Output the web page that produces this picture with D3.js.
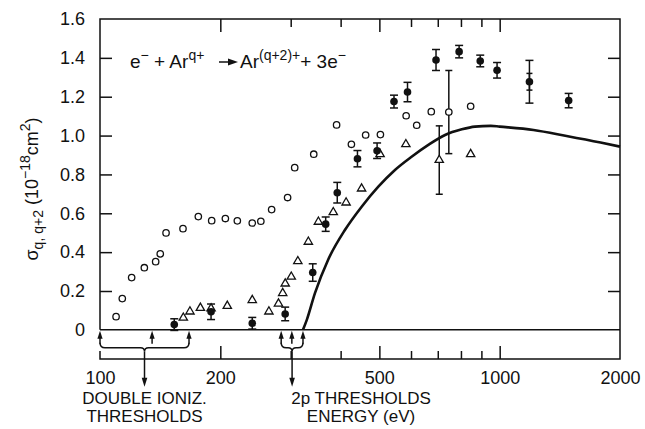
<!DOCTYPE html>
<html>
<head>
<meta charset="utf-8">
<script src="https://cdn.jsdelivr.net/npm/d3@7"></script>
<style>
  body { margin: 0; background: #fff; }
  svg text { font-family: "Liberation Sans", Arial, sans-serif; fill: #111; }
</style>
</head>
<body>
<div id="chart"></div>
<script>
// open circles
var openE = [109.7, 113.7, 120, 129.1, 137.8, 141.5, 146.3, 161.3, 176.2, 190.3, 205.9, 220.6, 240.4, 252.6, 268.8, 294.7, 307, 342.6, 390.8, 425.6, 462, 503, 583.4, 620, 674.3, 746, 846];
var openV = [0.068, 0.161, 0.269, 0.32, 0.351, 0.391, 0.499, 0.521, 0.583, 0.562, 0.573, 0.561, 0.55, 0.559, 0.619, 0.681, 0.835, 0.904, 1.055, 0.955, 1.003, 1.005, 1.102, 1.053, 1.123, 1.121, 1.151];
var openErr = [0, 0, 0, 0, 0, 0, 0, 0, 0, 0, 0, 0, 0, 0, 0, 0, 0, 0, 0, 0, 0, 0, 0, 0, 0, 0.214, 0];

// triangles
var triE = [161.6, 167.9, 178.3, 189.6, 208.2, 240.4, 264.6, 279.6, 286.5, 290.7, 301, 312.6, 332.1, 351.9, 383.4, 412.8, 451.3, 502, 582.5, 706, 846];
var triV = [0.062, 0.094, 0.113, 0.11, 0.123, 0.153, 0.094, 0.135, 0.189, 0.238, 0.273, 0.353, 0.453, 0.556, 0.605, 0.655, 0.727, 0.904, 0.955, 0.874, 0.904];
var triErr = [0, 0, 0, 0, 0, 0, 0, 0, 0, 0, 0, 0, 0, 0, 0, 0, 0, 0, 0, 0.176, 0];

// filled circles with error bars
var dotE = [153.4, 189.6, 240.4, 290.6, 340.6, 367, 392.3, 440.7, 493.5, 544, 588, 693, 791.6, 894, 985, 1187, 1488];
var dotV = [0.027, 0.093, 0.034, 0.082, 0.295, 0.544, 0.706, 0.881, 0.922, 1.175, 1.224, 1.389, 1.432, 1.384, 1.336, 1.277, 1.18];
var dotErr = [0.03, 0.04, 0.03, 0.035, 0.045, 0.037, 0.053, 0.042, 0.04, 0.033, 0.05, 0.054, 0.032, 0.03, 0.04, 0.11, 0.037];
var dotInnerErr = [0, 0, 0, 0, 0, 0, 0, 0, 0, 0, 0, 0, 0, 0, 0, 0.043, 0];

// theory curve
var curveE = [322, 329, 345, 372, 410, 451.5, 497, 547, 602, 663, 730, 804, 867, 950, 1000, 1215, 1470, 1788, 2000];
var curveV = [0, 0.05, 0.189, 0.36, 0.514, 0.634, 0.737, 0.823, 0.891, 0.952, 1.003, 1.032, 1.046, 1.05, 1.046, 1.029, 0.998, 0.964, 0.943];

// thresholds (eV)
var doubleIonizE = [100, 135, 167];
var twoPE = [284, 302, 322];

// ticks
var xLabelTicks = [100, 200, 500, 1000, 2000];
var xMajorTicks = [200, 500, 1000];
var xMinorTicks = [300, 400, 600, 700, 800, 900];
var yTicks = [0, 0.2, 0.4, 0.6, 0.8, 1.0, 1.2, 1.4, 1.6];
var yTickLabels = ["0", "0.2", "0.4", "0.6", "0.8", "1.0", "1.2", "1.4", "1.6"];

var width = 645, height = 429;
// plot frame edges (note: "top" is taken by window.top)
var frameL = 100, frameR = 620, frameT = 19, frameB = 359;

var svg = d3.select("#chart").append("svg")
  .attr("width", width)
  .attr("height", height);

var x = d3.scaleLog().domain([100, 2000]).range([frameL, frameR]);
var y = d3.scaleLinear().domain([-0.15, 1.6]).range([frameB, frameT]);

var ink = "#111";
var y0 = y(0);

// frame (left side is broken where the threshold braces sit)
var frame = svg.append("g").attr("stroke", ink).attr("stroke-width", 1.5).attr("fill", "none");
frame.append("path").attr("d", "M" + frameL + "," + y0 + "V" + frameT + "H" + frameR + "V" + frameB + "H" + frameL + "V" + (frameB - 8));
frame.append("line").attr("x1", frameL).attr("x2", frameR).attr("y1", y0).attr("y2", y0);

// inward ticks: bottom and top
function tickAxis(axisFn, vals, size, ypos) {
  var g = svg.append("g")
    .attr("transform", "translate(0," + ypos + ")")
    .call(axisFn(x).tickValues(vals).tickSize(size).tickFormat(""));
  g.select(".domain").remove();
  g.selectAll("line").attr("stroke", ink).attr("stroke-width", 1.5);
}
tickAxis(d3.axisBottom, xMajorTicks, -13, frameB);
tickAxis(d3.axisBottom, xMinorTicks, -8, frameB);
tickAxis(d3.axisTop, xMajorTicks, -13, frameT);
tickAxis(d3.axisTop, xMinorTicks, -8, frameT);

// x labels
var xl = svg.append("g")
  .attr("transform", "translate(0," + frameB + ")")
  .call(d3.axisBottom(x).tickValues(xLabelTicks).tickSize(0).tickPadding(12).tickFormat(d3.format("d")));
xl.select(".domain").remove();
xl.selectAll("text").attr("font-size", 18).attr("fill", ink)
  .style("font-family", "'Liberation Sans', Arial, sans-serif");

// y ticks left and right
var yInner = yTicks.filter(function(d) { return d > 0 && d < 1.6; });
var yl = svg.append("g").attr("transform", "translate(" + frameL + ",0)")
  .call(d3.axisLeft(y).tickValues(yInner).tickSize(-12).tickFormat(""));
yl.select(".domain").remove();
yl.selectAll("line").attr("stroke", ink).attr("stroke-width", 1.5);
var yr = svg.append("g").attr("transform", "translate(" + frameR + ",0)")
  .call(d3.axisRight(y).tickValues(yInner).tickSize(-12).tickFormat(""));
yr.select(".domain").remove();
yr.selectAll("line").attr("stroke", ink).attr("stroke-width", 1.5);

var ylab = svg.append("g").attr("transform", "translate(" + frameL + ",0)")
  .call(d3.axisLeft(y).tickValues(yTicks).tickSize(0).tickPadding(15)
    .tickFormat(function(d, i) { return yTickLabels[i]; }));
ylab.select(".domain").remove();
ylab.selectAll("text").attr("font-size", 18).attr("fill", ink)
  .style("font-family", "'Liberation Sans', Arial, sans-serif");

// y axis title
var yt = svg.append("text")
  .attr("transform", "translate(38,189) rotate(-90)")
  .attr("text-anchor", "middle")
  .attr("font-size", 18);
yt.append("tspan").text("σ");
yt.append("tspan").attr("dy", 5).attr("font-size", 14).text("q, q+2");
yt.append("tspan").attr("dy", -5).text(" (10");
yt.append("tspan").attr("dy", -8).attr("font-size", 14).text("−18");
yt.append("tspan").attr("dy", 8).text("cm");
yt.append("tspan").attr("dy", -8).attr("font-size", 14).text("2");
yt.append("tspan").attr("dy", 8).text(")");

// reaction equation
var eq1 = svg.append("text").attr("x", 130).attr("y", 68).attr("font-size", 19);
eq1.append("tspan").text("e");
eq1.append("tspan").attr("dy", -8).attr("font-size", 14).text("−");
eq1.append("tspan").attr("dy", 8).text(" + Ar");
eq1.append("tspan").attr("dy", -8).attr("font-size", 14).text("q+");
svg.append("line").attr("x1", 219).attr("x2", 230).attr("y1", 62).attr("y2", 62)
  .attr("stroke", ink).attr("stroke-width", 1.5);
svg.append("path").attr("d", "M228,58.5L238,62L228,65.5Z").attr("fill", ink);
var eq2 = svg.append("text").attr("x", 240).attr("y", 68).attr("font-size", 19);
eq2.append("tspan").text("Ar");
eq2.append("tspan").attr("dy", -8).attr("font-size", 14).text("(q+2)+");
eq2.append("tspan").attr("dy", 8).text("+ 3e");
eq2.append("tspan").attr("dy", -8).attr("font-size", 14).text("−");

// theory curve
var line = d3.line()
  .x(function(d, i) { return x(curveE[i]); })
  .y(function(d) { return y(d); })
  .curve(d3.curveMonotoneX);
svg.append("path")
  .attr("d", line(curveV))
  .attr("fill", "none")
  .attr("stroke", ink)
  .attr("stroke-width", 2.6);

// error bars helper
function errorBars(es, vs, errs, capW) {
  var g = svg.append("g").attr("stroke", ink).attr("stroke-width", 1.5);
  es.forEach(function(e, i) {
    if (!errs[i]) return;
    var cx = x(e), y1 = y(vs[i] + errs[i]), y2 = y(vs[i] - errs[i]);
    g.append("line").attr("x1", cx).attr("x2", cx).attr("y1", y1).attr("y2", y2);
    g.append("line").attr("x1", cx - capW / 2).attr("x2", cx + capW / 2).attr("y1", y1).attr("y2", y1);
    g.append("line").attr("x1", cx - capW / 2).attr("x2", cx + capW / 2).attr("y1", y2).attr("y2", y2);
  });
}

errorBars(openE, openV, openErr, 7);
errorBars(triE, triV, triErr, 7);
errorBars(dotE, dotV, dotErr, 8);
errorBars(dotE, dotV, dotInnerErr, 6);

// open circles
svg.append("g").selectAll("circle")
  .data(openV)
  .enter()
  .append("circle")
  .attr("cx", function(d, i) { return x(openE[i]); })
  .attr("cy", function(d) { return y(d); })
  .attr("r", 3.2)
  .attr("fill", "#fff")
  .attr("stroke", ink)
  .attr("stroke-width", 1.3);

// triangles
var tri = d3.symbol().type(d3.symbolTriangle).size(30);
svg.append("g").selectAll("path")
  .data(triV)
  .enter()
  .append("path")
  .attr("d", tri)
  .attr("transform", function(d, i) { return "translate(" + x(triE[i]) + "," + y(d) + ")"; })
  .attr("fill", "#fff")
  .attr("stroke", ink)
  .attr("stroke-width", 1.3);

// filled circles
svg.append("g").selectAll("circle")
  .data(dotV)
  .enter()
  .append("circle")
  .attr("cx", function(d, i) { return x(dotE[i]); })
  .attr("cy", function(d) { return y(d); })
  .attr("r", 3.8)
  .attr("fill", ink);

// threshold arrows, braces and pointers
function thresholds(es) {
  var g = svg.append("g");
  es.forEach(function(e) {
    var cx = x(e);
    g.append("line").attr("x1", cx).attr("x2", cx).attr("y1", y0 + 14).attr("y2", y0 + 6)
      .attr("stroke", ink).attr("stroke-width", 1.5);
    g.append("path").attr("d", "M" + (cx - 2.6) + "," + (y0 + 9) + "L" + cx + "," + (y0 + 1) + "L" + (cx + 2.6) + "," + (y0 + 9) + "Z")
      .attr("fill", ink);
  });
  var a = x(es[0]), b = x(es[es.length - 1]), m = (a + b) / 2;
  var by = y0 + 18;
  g.append("path")
    .attr("d", "M" + a + "," + (by - 5) + "Q" + a + "," + by + " " + (a + 5) + "," + by +
      "L" + (m - 4) + "," + by + "Q" + m + "," + by + " " + m + "," + (by + 4) +
      "Q" + m + "," + by + " " + (m + 4) + "," + by +
      "L" + (b - 5) + "," + by + "Q" + b + "," + by + " " + b + "," + (by - 5))
    .attr("fill", "none").attr("stroke", ink).attr("stroke-width", 1.5);
  g.append("line").attr("x1", m).attr("x2", m).attr("y1", by + 4).attr("y2", y0 + 50)
    .attr("stroke", ink).attr("stroke-width", 1.5);
  g.append("path").attr("d", "M" + (m - 2.8) + "," + (y0 + 48) + "L" + m + "," + (y0 + 57) + "L" + (m + 2.8) + "," + (y0 + 48) + "Z")
    .attr("fill", ink);
  return m;
}
var m1 = thresholds(doubleIonizE);
var m2 = thresholds(twoPE);

function label(txt, cx, cy) {
  svg.append("text").attr("x", cx).attr("y", cy).attr("text-anchor", "middle")
    .attr("font-size", 17).text(txt);
}
label("DOUBLE IONIZ.", m1, 404);
label("THRESHOLDS", m1, 422);
label("2p THRESHOLDS", 361, 404);
label("ENERGY (eV)", 361, 422);
</script>
</body>
</html>
